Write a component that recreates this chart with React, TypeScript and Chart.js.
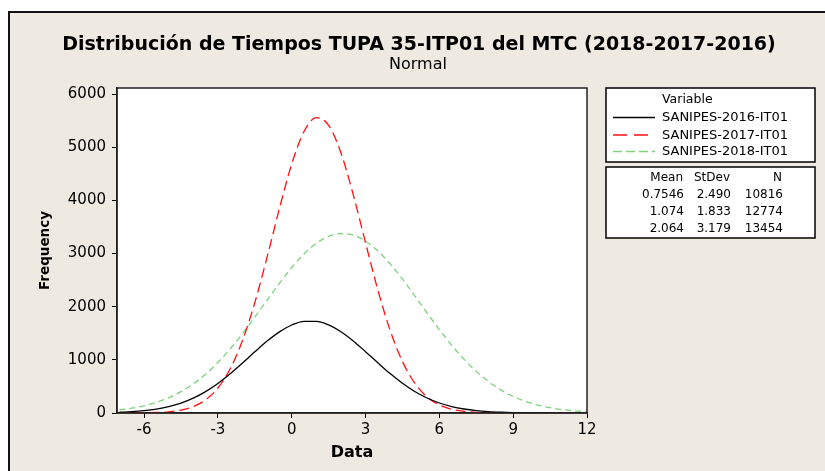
import React, { useEffect, useRef } from "react";
import { Chart, registerables } from "chart.js";

Chart.register(...registerables);

const titleText = "Distribución de Tiempos TUPA 35-ITP01 del MTC (2018-2017-2016)";
const subtitleText = "Normal";
const xAxisTitle = "Data";
const yAxisTitle = "Frequency";

const xTickValues = [-6, -3, 0, 3, 6, 9, 12];
const yTickValues = [0, 1000, 2000, 3000, 4000, 5000, 6000];

const xValues = [
  -7, -6.5, -6, -5.5, -5, -4.5, -4, -3.5, -3, -2.5, -2, -1.5, -1, -0.5, 0, 0.5, 1, 1.5, 2, 2.5,
  3, 3.5, 4, 4.5, 5, 5.5, 6, 6.5, 7, 7.5, 8, 8.5, 9, 9.5, 10, 10.5, 11, 11.5, 12,
];

const seriesNames = ["SANIPES-2016-IT01", "SANIPES-2017-IT01", "SANIPES-2018-IT01"];

const freq2016 = [
  14, 25, 44, 74, 120, 187, 280, 403, 556, 738, 940, 1150, 1352, 1526, 1655, 1724, 1725, 1657, 1529, 1356,
  1154, 944, 741, 559, 405, 282, 188, 121, 75, 44, 25, 14, 7, 4, 2,
];
const freq2017 = [
  0, 1, 3, 9, 23, 55, 121, 247, 470, 831, 1363, 2075, 2932, 3846, 4683, 5294, 5555, 5412, 4894, 4108,
  3202, 2316, 1555, 969, 561, 301, 150, 70, 30, 12, 4, 1,
];
const freq2018 = [
  58, 90, 135, 199, 286, 401, 548, 730, 950, 1205, 1492, 1802, 2122, 2439, 2735, 2992, 3193, 3324, 3376, 3345,
  3234, 3049, 2806, 2518, 2205, 1883, 1569, 1276, 1012, 783, 591, 435, 313, 219, 150, 100, 65, 41, 26,
];

const statHeaders = ["Mean", "StDev", "N"];
const means = ["0.7546", "1.074", "2.064"];
const stdevs = ["2.490", "1.833", "3.179"];
const counts = ["10816", "12774", "13454"];

const lineColors = ["#000000", "#FF1010", "#7CD37C"];
const lineDashes: number[][] = [[], [10, 5], [6, 4]];

const FONT = "'DejaVu Sans', Verdana, sans-serif";

const toPoints = (ys: number[]) => ys.map((y, i) => ({ x: xValues[i], y }));

const framePlugin = {
  id: "frame",
  beforeDraw(chart: any) {
    const { ctx, width, height, chartArea: a } = chart;
    ctx.save();
    ctx.fillStyle = "#ffffff";
    ctx.fillRect(0, 0, width, height);
    ctx.fillStyle = "#EEEAE1";
    ctx.fillRect(8, 11, width - 8, height - 11);
    ctx.strokeStyle = "#111";
    ctx.lineWidth = 2;
    ctx.beginPath();
    ctx.moveTo(9, height);
    ctx.lineTo(9, 12);
    ctx.lineTo(width, 12);
    ctx.stroke();
    ctx.fillStyle = "#ffffff";
    ctx.fillRect(a.left, a.top, a.right - a.left, a.bottom - a.top);

    ctx.fillStyle = "#000";
    ctx.textAlign = "center";
    ctx.textBaseline = "middle";
    ctx.font = `bold 19px ${FONT}`;
    ctx.fillText(titleText, 419, 45);
    ctx.font = `16px ${FONT}`;
    ctx.fillText(subtitleText, 418, 65);
    ctx.restore();
  },
  afterDraw(chart: any) {
    const { ctx, chartArea: a } = chart;
    ctx.save();
    ctx.strokeStyle = "#222";
    ctx.lineWidth = 1.5;
    ctx.strokeRect(a.left, a.top, a.right - a.left, a.bottom - a.top);

    // legend box 1
    const bx = 606, bw = 209;
    ctx.fillStyle = "#fff";
    ctx.fillRect(bx, 88, bw, 74);
    ctx.fillRect(bx, 167, bw, 71);
    ctx.strokeStyle = "#000";
    ctx.lineWidth = 1.5;
    ctx.strokeRect(bx, 88, bw, 74);
    ctx.strokeRect(bx, 167, bw, 71);

    ctx.fillStyle = "#000";
    ctx.textBaseline = "middle";
    ctx.textAlign = "left";
    ctx.font = `12.5px ${FONT}`;
    ctx.fillText("Variable", 662, 100);
    const rows = [117.5, 135, 151.5];
    ctx.font = `13px ${FONT}`;
    seriesNames.forEach((name, i) => {
      ctx.strokeStyle = lineColors[i];
      ctx.lineWidth = 1.5;
      ctx.setLineDash(lineDashes[i].length ? (i === 1 ? [14, 7] : [9, 4]) : []);
      ctx.beginPath();
      ctx.moveTo(613, rows[i]);
      ctx.lineTo(655, rows[i]);
      ctx.stroke();
      ctx.setLineDash([]);
      ctx.fillStyle = "#000";
      ctx.fillText(name, 662, rows[i] + 0.5);
    });

    // stats box
    ctx.font = `12px ${FONT}`;
    ctx.textAlign = "right";
    const cols = [684, 731, 783];
    const headerCols = [683, 730, 782];
    statHeaders.forEach((h, j) => ctx.fillText(h, headerCols[j], 178));
    const srows = [194.5, 211.5, 228.5];
    srows.forEach((y, i) => {
      ctx.fillText(means[i], cols[0], y);
      ctx.fillText(stdevs[i], cols[1], y);
      ctx.fillText(counts[i], cols[2], y);
    });
    ctx.restore();
  },
};

export default function App() {
  const canvasRef = useRef<HTMLCanvasElement | null>(null);

  useEffect(() => {
    if (!canvasRef.current) return;
    const allSeries = [freq2016, freq2017, freq2018];
    const chart = new Chart(canvasRef.current, {
      type: "line",
      data: {
        datasets: allSeries.map((s, i) => ({
          label: seriesNames[i],
          data: toPoints(s),
          borderColor: lineColors[i],
          backgroundColor: lineColors[i],
          borderWidth: 1.3,
          borderDash: lineDashes[i],
          pointRadius: 0,
          fill: false,
          cubicInterpolationMode: "monotone" as const,
        })),
      },
      options: {
        animation: false,
        responsive: false,
        devicePixelRatio: 1,
        layout: { padding: { left: 0, top: 88, right: 238, bottom: 0 } },
        plugins: {
          legend: { display: false },
          title: { display: false },
          tooltip: { enabled: false },
        },
        scales: {
          x: {
            type: "linear",
            min: -7.1,
            max: 12,
            afterBuildTicks: (scale: any) => {
              scale.ticks = xTickValues.map((v) => ({ value: v }));
            },
            afterFit: (scale: any) => {
              scale.height = 58;
            },
            grid: { drawOnChartArea: false, drawTicks: true, tickLength: 5, color: "#000" },
            border: { display: true, color: "#222", width: 1.5 },
            ticks: {
              color: "#000",
              font: { family: FONT, size: 15 },
              padding: 3,
              maxRotation: 0,
              callback: (v: any) => String(v),
            },
            title: {
              display: true,
              text: xAxisTitle,
              color: "#000",
              font: { family: FONT, size: 16, weight: "bold" },
              padding: { top: 0, bottom: 9 },
            },
          },
          y: {
            type: "linear",
            min: 0,
            max: 6113,
            afterBuildTicks: (scale: any) => {
              scale.ticks = yTickValues.map((v) => ({ value: v }));
            },
            afterFit: (scale: any) => {
              scale.width = 117;
            },
            grid: { drawOnChartArea: false, drawTicks: true, tickLength: 5, color: "#000" },
            border: { display: true, color: "#222", width: 1.5 },
            ticks: {
              color: "#000",
              font: { family: FONT, size: 15 },
              padding: 6,
              callback: (v: any) => String(v),
            },
            title: {
              display: true,
              text: yAxisTitle,
              color: "#000",
              font: { family: FONT, size: 13.5, weight: "bold" },
              padding: { top: 37, bottom: 0 },
            },
          },
        },
      },
      plugins: [framePlugin],
    });
    return () => chart.destroy();
  }, []);

  return (
    <div style={{ position: "absolute", left: 0, top: 0, width: 825, height: 471 }}>
      <canvas ref={canvasRef} width={825} height={471} style={{ display: "block" }} />
    </div>
  );
}
